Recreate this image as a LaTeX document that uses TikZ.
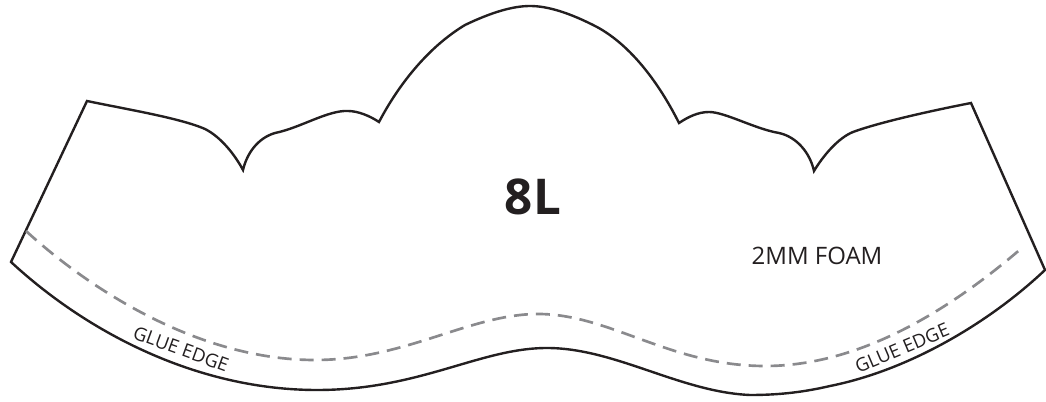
\documentclass[tikz,border=0pt]{standalone}
\usepackage{fontspec}
\setmainfont{Open Sans}
\definecolor{ink}{HTML}{231F20}
\definecolor{dash}{HTML}{8A8A8D}
\tikzset{
  outline/.style={draw=ink,line width=1.8pt,line join=miter,miter limit=10},
  glue/.style={draw=dash,line width=2pt,dash pattern=on 10.5pt off 6pt},
  lbl/.style={text=ink,inner sep=0pt,anchor=center}
}
\begin{document}
\begin{tikzpicture}[x=0.75pt,y=-0.75pt]
\useasboundingbox (0,0) rectangle (1046,402);
\draw[outline] (87,101)
 .. controls (125,109) and (180,118) .. (205,129)
 .. controls (221,137) and (235,155) .. (243,170)
 .. controls (247,153) and (258,138) .. (275,133)
 .. controls (300,128) and (328,110) .. (348,111)
 .. controls (358,111) and (370,116) .. (379,122)
 .. controls (400,82) and (430,46) .. (465,25)
 .. controls (490,13) and (512,6) .. (530,6)
 .. controls (548,6) and (570,13) .. (597,27)
 .. controls (632,46) and (660,85) .. (679,123)
 .. controls (688,117) and (698,112) .. (709,112)
 .. controls (725,112) and (755,129) .. (779,133)
 .. controls (797,137) and (810,153) .. (814,171)
 .. controls (823,156) and (838,138) .. (853,132)
 .. controls (880,122) and (935,110) .. (971,103)
 -- (1045,270)
 .. controls (990,322) and (910,370) .. (830,386)
 .. controls (800,393) and (775,395) .. (750,395)
 .. controls (680,392) and (615,348) .. (547,348)
 .. controls (480,348) and (420,390) .. (317,390)
 .. controls (200,390) and (90,335) .. (11,262)
 -- cycle;
\coordinate (g0) at (26,231);
\coordinate (g1) at (1023,247);
\draw[glue] (g0)
 .. controls (85,285) and (195,360) .. (315,360)
 .. controls (405,360) and (470,314) .. (538,314)
 .. controls (610,314) and (670,366) .. (765,366)
 .. controls (860,366) and (950,310) .. (g1);
\node[lbl,font=\bfseries\fontsize{37pt}{37pt}\selectfont] (size) at (533,197) {8L};
\node[lbl,font=\fontsize{18pt}{18pt}\selectfont] (mat) at (817,256) {2MM FOAM};
\node[lbl,font=\fontsize{14pt}{14pt}\selectfont,rotate=-20] (gl) at (181,349) {GLUE EDGE};
\node[lbl,font=\fontsize{14pt}{14pt}\selectfont,rotate=23] (gr) at (902,348) {GLUE EDGE};
\end{tikzpicture}
\end{document}
